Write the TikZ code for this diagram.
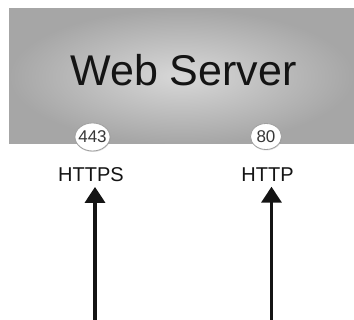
\documentclass[tikz,border=0pt]{standalone}
\usepackage{fontspec}
\setmainfont{Liberation Sans}
\usetikzlibrary{arrows.meta,shapes.geometric,shadows}
\definecolor{boxin}{HTML}{D8D8D8}
\definecolor{boxout}{HTML}{A6A6A6}
\definecolor{ink}{HTML}{141414}
\newcommand{\portnum}[1]{\makebox[0pt]{\raisebox{-6pt}{#1}}}
\tikzset{
  serverbox/.style={draw=none, inner color=boxin, outer color=boxout},
  port/.style={ellipse, draw=gray!75, fill=white, line width=0.8pt, inner sep=0pt,
    text height=0pt, text depth=0pt, text=ink!85, font=\fontsize{17}{20}\selectfont,
    drop shadow={opacity=0.25, shadow xshift=0.4pt, shadow yshift=-1pt}},
  proto/.style={anchor=base, inner xsep=0pt, inner ysep=4.5pt, text=ink,
    font=\fontsize{20}{23}\selectfont},
  flow/.style={line width=3.5pt, draw=ink, -{Triangle[width=20pt,length=16pt]}}
}
\begin{document}
\begin{tikzpicture}[x=1pt,y=-1pt]
\useasboundingbox (0,0) rectangle (354,320);
\fill[serverbox] (9,9) rectangle (354,144);
\node[anchor=base, inner sep=0pt, text=ink, font=\fontsize{43}{50}\selectfont] (ws) at (183.5,86) {Web Server};
\node[port, minimum width=35pt, minimum height=28pt] (p443) at (92.5,137) {\portnum{443}};
\node[port, minimum width=31pt, minimum height=26pt] (p80) at (266,136.5) {\portnum{80}};
\node[proto] (https) at (91,182) {HTTPS};
\node[proto] (http) at (267.5,182) {HTTP};
\coordinate (s1) at (95,320);
\coordinate (s2) at (271.5,320);
\draw[flow] (s1) -- (s1 |- https.south);
\draw[flow] (s2) -- (s2 |- http.south);
\end{tikzpicture}
\end{document}
